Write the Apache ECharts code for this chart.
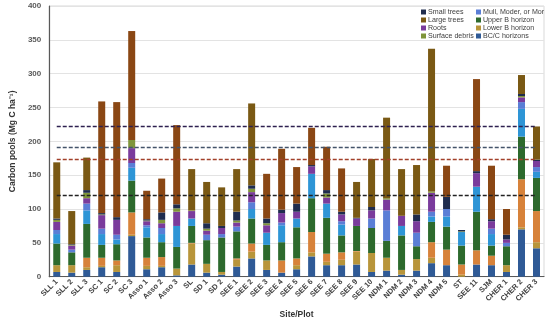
<!DOCTYPE html>
<html><head><meta charset="utf-8">
<script src="https://cdn.jsdelivr.net/npm/echarts@6/dist/echarts.min.js"></script>
<style>html,body{margin:0;padding:0;background:#fff}#c{width:550px;height:324px}</style>
</head><body><div id="c"></div>
<script>
const categories = ["SLL 1","SLL 2","SLL 3","SC 1","SC 2","SC 3","Asso 1","Asso 2","Asso 3","SL","SD 1","SD 2","SEE 1","SEE 2","SEE 3","SEE 4","SEE 5","SEE 6","SEE 7","SEE 8","SEE 9","SEE 10","NDM 1","NDM 2","NDM 3","NDM 4","NDM 5","ST","SEE 11","SJM","CHER 1","CHER 2","CHER 3"];
const yTicks = [0,50,100,150,200,250,300,350,400];
// stacked layers, bottom to top (Mg C/ha)
const bcC        = [7,6,10,14,7,60,11,14,2,18,6,3,15,27,10,6,11,30,17,17,18,7,9,3,9,20,17,0,18,17,7,70,42];
const lowerB     = [10,11,4,2,10,2,5,2,10,31,13,4,10,10,14,0,6,6,5,8,19,28,19,7,17,8,0,3,0,0,10,3,9];
const bOrange    = [0,0,14,12,7,33,12,13,0,1,0,0,2,12,0,18,10,30,12,11,1,0,0,0,0,23,23,15,21,14,0,71,46];
const upperB     = [32,19,50,19,24,47,30,22,32,25,35,51,40,37,23,27,46,50,53,25,37,37,25,51,19,30,34,28,57,15,28,63,49];
const cyanLayer  = [14,0,20,16,7,19,15,12,31,11,0,0,0,14,18,25,13,36,21,16,0,0,0,14,0,8,15,20,37,17,0,41,9];
const mull       = [6,4,10,8,7,7,3,9,0,0,8,5,7,10,0,4,0,0,0,5,0,14,45,0,20,7,11,0,0,8,5,10,7];
const roots      = [12,6,8,20,22,22,6,7,21,11,6,9,6,15,11,14,10,11,9,10,11,12,16,15,17,28,0,0,20,11,5,7,9];
const debris     = [3,1,8,1,0,12,1,5,5,1,3,0,3,5,3,0,0,0,6,0,0,0,2,0,0,2,0,1,0,0,0,2,0];
const smallTrees = [2,1,4,2,4,0,2,11,6,0,8,3,13,5,7,5,12,2,5,4,1,5,0,0,10,0,18,2,3,3,7,3,2];
const largeTrees = [83,49,48,0,0,0,0,0,0,61,61,57,63,121,0,0,0,0,0,0,53,71,119,69,73,211,0,0,0,0,0,28,49];
const largeTreesB= [0,0,0,165,170,161,42,50,117,0,0,0,0,0,66,90,54,55,64,64,0,0,0,0,0,0,46,0,136,79,38,0,0];
const refLines = [222,192,174,120];

const layers = [
  {name:"BC/C horizons", data:bcC, color:"#2F5A96"},
  {name:"Lower B horizon", data:lowerB, color:"#B8953A"},
  {name:"B orange", data:bOrange, color:"#D7823A"},
  {name:"Upper B horizon", data:upperB, color:"#2D6A2D"},
  {name:"B cyan", data:cyanLayer, color:"#2E95D6"},
  {name:"Mull, Moder, or Mor", data:mull, color:"#5A7ED6"},
  {name:"Roots", data:roots, color:"#7A3B9C"},
  {name:"Surface debris", data:debris, color:"#7F953A"},
  {name:"Small trees", data:smallTrees, color:"#1F2C4E"},
  {name:"Large trees", data:largeTrees, color:"#7A5914"},
  {name:"Large trees b", data:largeTreesB, color:"#8A4714"}
];
const refColors = ["#2E2150","#44546A","#A2402A","#222222"];

const series = layers.map((l,i)=>({
  name:l.name, type:"bar", stack:"all", data:l.data, barWidth:7,
  itemStyle:{color:l.color}, emphasis:{disabled:true}
}));
series[series.length-1].markLine = {
  silent:true, symbol:["none","none"], label:{show:false},
  data: refLines.map((v,i)=>[
    {coord:[categories[0], v], lineStyle:{color:refColors[i], type:[4,2], width:1.3}},
    {coord:[categories[categories.length-1], v]}
  ])
};

const font = "Liberation Sans";
const legText = {fontSize:7.1, lineHeight:8, color:"#404040", fontFamily:font, padding:[0,0,0,-3]};
const chart = echarts.init(document.getElementById("c"), null, {renderer:"canvas"});
chart.setOption({
  animation:false,
  textStyle:{fontFamily:font},
  grid:{left:40, right:6, top:6, bottom:41, show:true, borderColor:"#d9d9d9", borderWidth:1},
  legend:[
    {data:["Small trees","Large trees","Roots","Surface debris"], orient:"vertical", left:421, top:8, padding:0,
     itemWidth:5, itemHeight:5, itemGap:0, icon:"rect", textStyle:legText},
    {data:["Mull, Moder, or Mor","Upper B horizon","Lower B horizon","BC/C horizons"], orient:"vertical", left:476, top:8, padding:0,
     itemWidth:5, itemHeight:5, itemGap:0, icon:"rect", textStyle:legText}
  ],
  xAxis:{
    type:"category", data:categories,
    name:"Site/Plot", nameLocation:"middle", nameGap:28,
    nameTextStyle:{fontWeight:"bold", fontSize:8.5, color:"#333", fontFamily:font},
    axisLine:{lineStyle:{color:"#595959", width:1.2}},
    axisTick:{show:false},
    axisLabel:{rotate:45, fontSize:7.5, fontWeight:"bold", color:"#404040", margin:4, interval:0, fontFamily:font}
  },
  yAxis:{
    type:"value", min:yTicks[0], max:yTicks[yTicks.length-1], interval:50,
    name:"Carbon pools (Mg C ha\u207B\u00B9)", nameLocation:"middle", nameGap:28,
    nameTextStyle:{fontWeight:"bold", fontSize:8.5, color:"#333", fontFamily:font},
    axisLine:{show:true, lineStyle:{color:"#595959", width:1.2}},
    axisTick:{show:false},
    splitLine:{lineStyle:{color:"#e3e3e3"}},
    axisLabel:{fontSize:8, fontWeight:"bold", color:"#595959", margin:8, fontFamily:font}
  },
  series:series
});
</script></body></html>
